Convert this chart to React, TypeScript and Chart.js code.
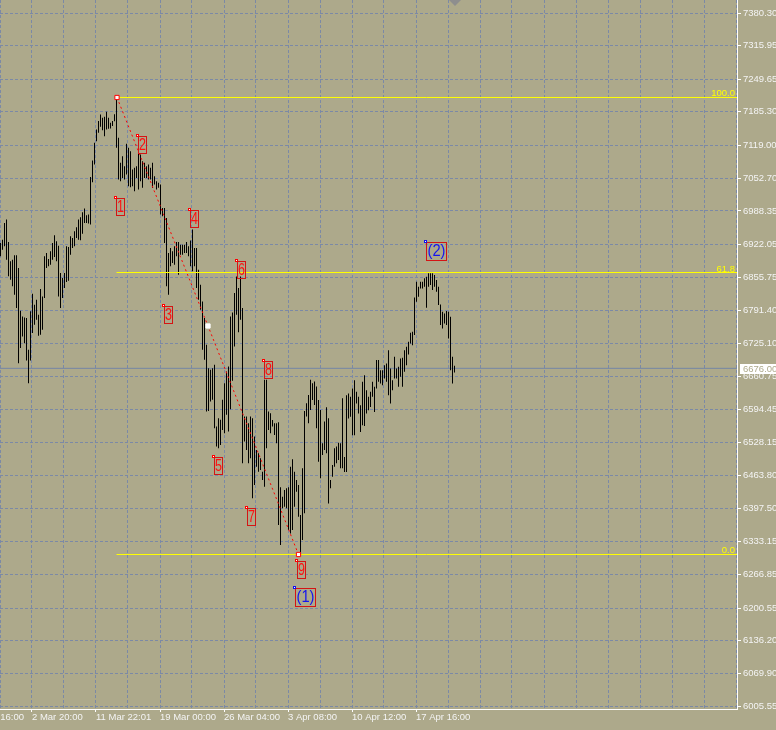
import React, { useEffect, useRef } from 'react';
import { Chart, registerables } from 'chart.js';

Chart.register(...registerables);

// ---- Bar data (one bar every 2px, index 0 = leftmost bar) ----
const highs: number[] = [
  6924.7, 6931.3, 6964.4, 6971.0, 6926.7, 6888.3, 6891.6, 6900.2, 6900.2, 6875.0,
  6790.3, 6779.0, 6777.0, 6775.7, 6712.8, 6789.0, 6824.0, 6802.2, 6812.1, 6782.3,
  6833.3, 6818.7, 6898.2, 6904.8, 6892.9, 6908.1, 6924.7, 6939.9, 6928.0, 6919.4,
  6865.1, 6855.2, 6865.1, 6918.1, 6916.7, 6937.9, 6934.6, 6947.9, 6955.8, 6971.0,
  6975.7, 6985.6, 6992.9, 6979.7, 6981.0, 7055.8, 7088.3, 7123.3, 7149.8, 7166.4,
  7179.6, 7173.0, 7175.0, 7184.9, 7173.0, 7163.1, 7166.4, 7180.0,
  7213.3, 7133.3, 7083.6, 7096.9, 7077.0, 7121.4, 7113.4, 7106.8, 7070.4, 7073.7,
  7077.0, 7126.7, 7100.2, 7087.0, 7083.6, 7077.0, 7080.3, 7073.7, 7083.6, 7057.2,
  7047.2, 7043.9, 7040.6, 6994.2, 6994.2, 6974.4, 6904.9, 6914.8, 6908.2, 6918.1,
  6926.7, 6926.7, 6921.4, 6921.4, 6921.4, 6926.7, 6918.1, 6929.4, 6951.2, 6914.8,
  6914.8, 6871.7, 6841.9, 6808.8, 6775.7, 6722.7, 6676.4, 6673.1, 6676.4, 6683.0,
  6560.5, 6577.1, 6573.8, 6613.5, 6646.6, 6669.8, 6679.7,
  6779.0, 6786.9, 6825.3, 6858.4, 6835.2, 6858.4, 6795.5, 6580.3, 6580.3, 6567.1,
  6580.3, 6577.0, 6540.6, 6514.1, 6507.5, 6497.5, 6471.0, 6653.1, 6653.1, 6590.2,
  6586.9, 6573.7, 6567.1, 6567.1, 6569.1, 6439.9, 6421.4, 6434.6, 6437.9, 6439.9,
  6481.0, 6495.5, 6471.0, 6454.5, 6444.5, 6384.9, 6477.7, 6591.6, 6606.8, 6623.3,
  6653.1, 6646.5, 6649.8, 6639.9, 6613.4, 6593.5, 6527.3, 6570.4, 6598.8, 6577.0,
  6454.5, 6484.3, 6517.4, 6520.7, 6528.6, 6527.3, 6616.7,
  6500.2, 6622.7, 6626.0, 6619.4, 6636.0, 6652.5, 6629.3, 6619.4, 6602.9, 6649.2,
  6662.5, 6632.7, 6619.4, 6629.3, 6649.2, 6639.3, 6692.3, 6692.3, 6672.4, 6672.4,
  6682.3, 6685.6, 6712.1, 6675.7, 6652.5, 6698.9, 6675.7, 6679.0, 6695.6, 6696.9,
  6712.1, 6718.7, 6728.7, 6746.6, 6748.5, 6816.7, 6847.9, 6837.9, 6847.9, 6847.9,
  6854.5, 6857.8, 6864.4, 6864.4, 6864.4, 6861.1, 6851.2, 6837.9, 6802.8, 6788.3,
  6785.0, 6789.6, 6788.3, 6778.3, 6698.9, 6681.0,
];

const lows: number[] = [
  6898.2, 6911.4, 6918.1, 6891.6, 6858.5, 6851.8, 6838.6, 6822.0, 6795.6, 6686.3,
  6716.1, 6739.3, 6726.0, 6691.6, 6646.6, 6691.6, 6745.9, 6762.4, 6772.4, 6740.6,
  6742.6, 6752.5, 6815.4, 6875.0, 6878.3, 6881.6, 6891.6, 6896.9, 6888.3, 6818.7,
  6795.6, 6815.4, 6835.3, 6847.2, 6849.9, 6901.5, 6914.8, 6918.1, 6934.6, 6931.3,
  6930.0, 6943.2, 6964.4, 6964.4, 6963.1, 6961.1, 7045.2, 7080.3, 7126.7, 7143.2,
  7155.1, 7148.5, 7136.6, 7149.8, 7151.2, 7151.8, 7156.5, 7166.0,
  7113.4, 7050.5, 7047.2, 7053.8, 7050.5, 7060.5, 7037.3, 7035.3, 7037.3, 7027.4,
  7053.8, 7030.7, 7047.2, 7034.0, 7053.8, 7053.8, 7050.5, 7050.5, 7034.0, 7040.6,
  7030.7, 7034.0, 6981.0, 6977.7, 6924.7, 6838.6, 6822.1, 6878.4, 6885.0, 6881.7,
  6898.2, 6861.8, 6901.5, 6901.5, 6904.9, 6904.9, 6898.2, 6878.4, 6868.4, 6878.4,
  6835.3, 6812.1, 6792.3, 6712.8, 6692.9, 6590.3, 6591.6, 6610.2, 6613.5, 6557.2,
  6520.8, 6517.5, 6524.1, 6553.9, 6547.3, 6583.7, 6550.6,
  6594.9, 6651.2, 6719.4, 6782.3, 6747.8, 6772.3, 6487.6, 6530.6, 6514.1, 6487.6,
  6497.5, 6418.1, 6444.5, 6481.0, 6471.0, 6474.3, 6454.5, 6441.2, 6517.4, 6553.8,
  6547.2, 6560.4, 6543.9, 6527.3, 6365.1, 6325.4, 6398.2, 6401.5, 6398.2, 6355.2,
  6348.5, 6355.2, 6401.5, 6431.3, 6381.6, 6306.7, 6335.3, 6388.3, 6580.3, 6567.1,
  6593.5, 6613.4, 6603.5, 6557.1, 6490.9, 6457.8, 6504.1, 6514.1, 6507.5, 6408.1,
  6437.9, 6461.1, 6481.0, 6487.6, 6494.2, 6477.7, 6477.7,
  6470.4, 6470.4, 6576.4, 6579.7, 6543.3, 6543.3, 6606.2, 6586.3, 6549.9, 6563.1,
  6561.8, 6586.3, 6592.9, 6599.5, 6619.4, 6589.6, 6636.0, 6649.2, 6645.9, 6642.6,
  6655.8, 6649.2, 6622.7, 6606.2, 6632.7, 6655.8, 6655.8, 6639.3, 6659.1, 6639.3,
  6669.1, 6682.3, 6703.5, 6725.4, 6722.0, 6741.9, 6808.1, 6818.1, 6834.6, 6834.6,
  6837.9, 6796.2, 6837.9, 6841.2, 6831.3, 6837.9, 6828.0, 6801.5, 6761.8, 6755.2,
  6765.1, 6761.8, 6735.3, 6672.4, 6645.9, 6667.8,
];

// ---- Axis ticks ----
const yTickValues: number[] = [
  7380.3, 7315.95, 7249.65, 7185.3, 7119.0, 7052.7, 6988.35, 6922.05, 6855.75, 6791.4,
  6725.1, 6660.75, 6594.45, 6528.15, 6463.8, 6397.5, 6333.15, 6266.85, 6200.55, 6136.2,
  6069.9, 6005.55,
];
const xTickValues: number[] = [
  -16.25, -0.25, 15.75, 31.75, 47.75, 63.75, 79.75, 95.75, 111.75, 127.75, 143.75, 159.75,
  175.75, 191.75, 207.75, 223.75, 239.75, 255.75, 271.75, 287.75, 303.75, 319.75, 335.75,
  351.75, 367.75,
];
const xTickLabels: string[] = [
  '24 Feb 16:00', '', '2 Mar 20:00', '', '11 Mar 22:01', '', '19 Mar 00:00', '',
  '26 Mar 04:00', '', '3 Apr 08:00', '', '10 Apr 12:00', '', '17 Apr 16:00',
];

// ---- Fibonacci levels ----
const fibLabels: string[] = ['100.0', '61.8', '0.0'];
const fibPrices: number[] = [7213.3, 6866.1, 6306.7];
const fibStartIdx = 58;

// ---- Trend line (peak -> low) ----
const trendIdx: number[] = [58.25, 103.75, 149];
const trendPrices: number[] = [7213.3, 6760.0, 6306.7];

// ---- Wave labels ----
const waveTexts: string[] = ['1', '2', '3', '4', '5', '6', '7', '8', '9', '(1)', '(2)'];
const waveIdx: number[] = [57.75, 68.6, 81.75, 94.75, 106.75, 118.4, 123.25, 131.75, 148.25, 147.25, 212.75];
const wavePrices: number[] = [7013.3, 7136.9, 6799.6, 6990.1, 6499.5, 6888.9, 6398.9, 6690.5, 6293.2, 6239.6, 6926.0];

const currentPrice = 6676.0;

const X_MIN = -0.25;
const X_MAX = 368.25;
const Y_MIN = 6000.19;
const Y_MAX = 7406.68;

const BG = '#ADA98B';
const GRID = '#7B89A6';
const PRICE_LINE = '#7486A6';
const AXIS_TEXT = '#F4F4F4';
const FONT = "'Liberation Sans', Arial, sans-serif";

const overlayPlugin = {
  id: 'mtOverlay',
  beforeDraw(chart: any) {
    const { ctx, width, height } = chart;
    ctx.save();
    ctx.fillStyle = BG;
    ctx.fillRect(0, 0, width, height);
    ctx.restore();
  },
  afterDatasetsDraw(chart: any) {
    const { ctx, chartArea } = chart;
    const xs = chart.scales.x;
    const ys = chart.scales.y;
    ctx.save();
    // fib level labels
    ctx.font = `9.5px ${FONT}`;
    ctx.fillStyle = '#FFFF00';
    ctx.textAlign = 'right';
    ctx.textBaseline = 'alphabetic';
    fibPrices.forEach((p, i) => {
      const y = ys.getPixelForValue(p);
      ctx.fillText(fibLabels[i], chartArea.right - 2, y - 1);
    });
    // wave labels
    waveTexts.forEach((t, i) => {
      const x = Math.round(xs.getPixelForValue(waveIdx[i]));
      const y = Math.round(ys.getPixelForValue(wavePrices[i]));
      const major = t.startsWith('(');
      const w = major ? 20 : 8;
      const h = major ? 18 : 17;
      ctx.strokeStyle = '#D41414';
      ctx.lineWidth = 1;
      ctx.strokeRect(x + 0.5, y + 0.5, w, h);
      ctx.save();
      ctx.translate(x + 0.5 + w / 2, y + 0.5 + h / 2 + 0.5);
      ctx.scale(major ? 0.92 : 0.78, 1);
      ctx.font = `16px ${FONT}`;
      ctx.textAlign = 'center';
      ctx.textBaseline = 'middle';
      ctx.fillStyle = major ? '#1414F0' : '#FF1010';
      ctx.fillText(t, 0, 0);
      ctx.restore();
      // anchor square
      ctx.fillStyle = major ? '#1010F0' : '#FF0000';
      ctx.fillRect(x - 2, y - 2, 3, 3);
      ctx.fillStyle = '#FFFFFF';
      ctx.fillRect(x - 1, y - 1, 1, 1);
    });
    ctx.restore();
  },
  afterDraw(chart: any) {
    const { ctx, chartArea } = chart;
    const ys = chart.scales.y;
    ctx.save();
    // current price label
    const py = ys.getPixelForValue(currentPrice);
    ctx.fillStyle = '#FFFFFF';
    ctx.fillRect(chartArea.right + 3, Math.round(py) - 4, 40, 10);
    ctx.font = `9.5px ${FONT}`;
    ctx.fillStyle = BG;
    ctx.textAlign = 'left';
    ctx.textBaseline = 'middle';
    ctx.fillText(currentPrice.toFixed(2), chartArea.right + 6, Math.round(py) + 1);
    // chart shift marker
    ctx.fillStyle = '#8E8E8E';
    ctx.beginPath();
    ctx.moveTo(449, 0);
    ctx.lineTo(461, 0);
    ctx.lineTo(455, 6);
    ctx.closePath();
    ctx.fill();
    ctx.restore();
  },
};

export default function App() {
  const ref = useRef<HTMLCanvasElement>(null);

  useEffect(() => {
    const canvas = ref.current;
    if (!canvas) return;
    const chart = new Chart(canvas, {
      type: 'bar',
      data: {
        datasets: [
          {
            type: 'line',
            label: 'Bid',
            data: [{ x: X_MIN, y: currentPrice }, { x: X_MAX, y: currentPrice }],
            borderColor: PRICE_LINE,
            borderWidth: 1,
            pointRadius: 0,
            order: 4,
          } as any,
          {
            type: 'bar',
            label: 'Bars',
            data: highs.map((h, i) => ({ x: i, y: [lows[i], h] })),
            backgroundColor: '#000000',
            borderWidth: 0,
            barThickness: 1,
            inflateAmount: 0,
            order: 3,
          } as any,
          ...fibPrices.map((p, i) => ({
            type: 'line',
            label: fibLabels[i],
            data: [{ x: fibStartIdx, y: p }, { x: X_MAX, y: p }],
            borderColor: '#FFFF00',
            borderWidth: 1,
            pointRadius: 0,
            order: 2,
          } as any)),
          {
            type: 'line',
            label: 'Trend',
            data: trendIdx.map((x, i) => ({ x, y: trendPrices[i] })),
            borderColor: '#FF0000',
            borderWidth: 1,
            borderDash: [2, 3],
            pointStyle: 'rect',
            pointRadius: 3,
            pointBorderWidth: 1,
            pointBackgroundColor: '#FFFFFF',
            pointBorderColor: ['#FF0000', '#FFFFFF', '#FF0000'],
            order: 1,
          } as any,
        ],
      },
      options: {
        responsive: false,
        maintainAspectRatio: false,
        animation: false,
        devicePixelRatio: 1,
        events: [],
        layout: { padding: 0, autoPadding: false },
        plugins: { legend: { display: false }, tooltip: { enabled: false } },
        scales: {
          x: {
            type: 'linear',
            min: X_MIN,
            max: X_MAX,
            bounds: 'data',
            offset: false,
            afterBuildTicks: (s: any) => {
              s.ticks = xTickValues.map((v) => ({ value: v }));
            },
            afterFit: (s: any) => {
              s.height = 21;
              s.paddingLeft = 0;
              s.paddingRight = 0;
            },
            ticks: {
              autoSkip: false,
              maxRotation: 0,
              minRotation: 0,
              align: 'start',
              labelOffset: 0,
              padding: 0,
              color: AXIS_TEXT,
              font: { family: FONT, size: 9.5 },
              callback: (_v: any, i: number) => xTickLabels[i] ?? '',
            },
            grid: {
              color: GRID,
              offset: false,
              drawTicks: true,
              tickLength: 3,
              tickWidth: 1,
              tickColor: (c: any) => (xTickLabels[c.index] ? '#FFFFFF' : 'rgba(0,0,0,0)'),
            },
            border: { display: true, color: '#FFFFFF', width: 1, dash: [3, 2] },
          } as any,
          y: {
            type: 'linear',
            position: 'right',
            min: Y_MIN,
            max: Y_MAX,
            bounds: 'data',
            afterBuildTicks: (s: any) => {
              s.ticks = yTickValues.map((v) => ({ value: v }));
            },
            afterFit: (s: any) => {
              s.width = 39;
              s.paddingTop = 0;
              s.paddingBottom = 0;
            },
            ticks: {
              autoSkip: false,
              padding: 2,
              color: AXIS_TEXT,
              font: { family: FONT, size: 9.5 },
              callback: (v: any) => Number(v).toFixed(2),
            },
            grid: { color: GRID, tickColor: '#FFFFFF', tickLength: 4, tickWidth: 1 },
            border: { display: true, color: '#FFFFFF', width: 1, dash: [3, 2] },
          } as any,
        },
      },
      plugins: [overlayPlugin],
    } as any);
    return () => chart.destroy();
  }, []);

  return (
    <div style={{ position: 'fixed', left: 0, top: 0, width: 776, height: 730, background: BG }}>
      <canvas ref={ref} width={776} height={730} style={{ display: 'block', width: 776, height: 730 }} />
    </div>
  );
}
